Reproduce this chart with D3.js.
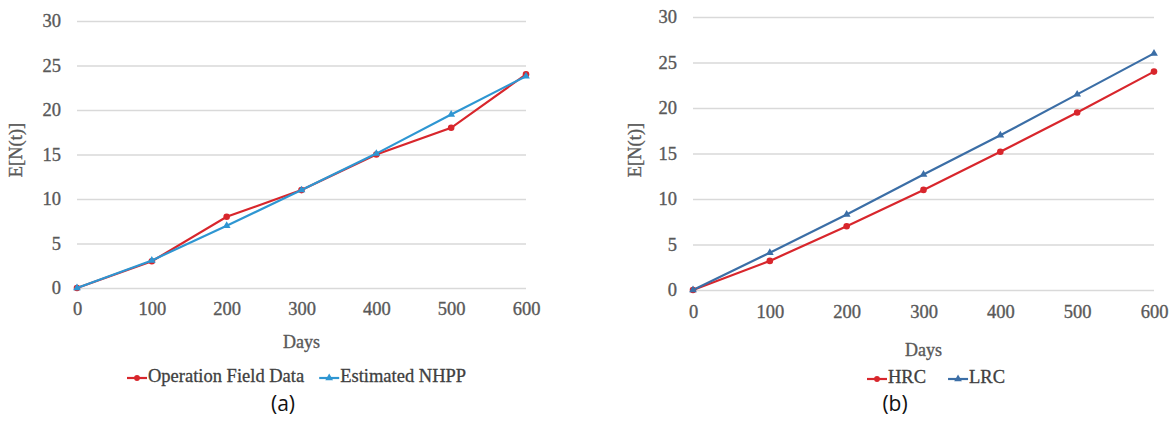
<!DOCTYPE html>
<html>
<head>
<meta charset="utf-8">
<script src="https://cdn.jsdelivr.net/npm/d3@7"></script>
<style>
  body { margin: 0; background: #fff; }
  svg { display: block; }
  .tick text { font-family: "Liberation Serif", serif; }
</style>
</head>
<body>
<svg id="chart" width="1176" height="428"></svg>
<script>
// data
var days = [0, 100, 200, 300, 400, 500, 600];
var fieldData = [0, 3, 8, 11, 15, 18, 24];
var nhpp = [0, 3.1, 7, 11, 15.1, 19.5, 23.8];
var hrc = [0, 3.2, 7, 11, 15.2, 19.5, 24];
var lrc = [0, 4.1, 8.3, 12.7, 17, 21.5, 26];
var yTicks = [0, 5, 10, 15, 20, 25, 30];
var xTicks = [0, 100, 200, 300, 400, 500, 600];

var svg = d3.select("#chart");
var serif = "'Liberation Serif', 'DejaVu Serif', serif";
var grey = "#595959";

function drawPanel(opt) {
  var x = d3.scaleLinear().domain([0, 600]).range([opt.left, opt.right]);
  var y = d3.scaleLinear().domain([0, 30]).range([opt.bottom, opt.top]);
  var g = svg.append("g");

  // gridlines + y labels
  g.append("g")
    .attr("transform", "translate(" + opt.left + ",0)")
    .call(d3.axisLeft(y).tickValues(yTicks).tickSize(-(opt.right - opt.left)).tickPadding(16))
    .call(function (a) {
      a.select(".domain").remove();
      a.selectAll(".tick line").attr("stroke", "#d9d9d9").attr("stroke-width", 1.3);
      a.selectAll(".tick text").attr("fill", grey).attr("stroke", grey).attr("stroke-width", 0.35).style("font-size", "18.5px");
    });

  g.append("g")
    .attr("transform", "translate(0," + opt.bottom + ")")
    .call(d3.axisBottom(x).tickValues(xTicks).tickSize(0).tickPadding(opt.xPad))
    .call(function (a) {
      a.select(".domain").remove();
      a.selectAll(".tick text").attr("fill", grey).attr("stroke", grey).attr("stroke-width", 0.35).style("font-size", "18.5px");
    });

  // axis titles
  g.append("text")
    .attr("x", (opt.left + opt.right) / 2)
    .attr("y", opt.daysY)
    .attr("text-anchor", "middle")
    .attr("font-family", serif)
    .attr("font-size", 18)
    .attr("fill", grey)
    .attr("stroke", grey)
    .attr("stroke-width", 0.35)
    .text("Days");

  g.append("text")
    .attr("transform", "translate(" + opt.titleX + ",150) rotate(-90)")
    .attr("text-anchor", "middle")
    .attr("dominant-baseline", "middle")
    .attr("font-family", serif)
    .attr("font-size", 18.5)
    .attr("fill", grey)
    .attr("stroke", grey)
    .attr("stroke-width", 0.35)
    .text("E[N(t)]");

  var line = d3.line()
    .x(function (d, i) { return x(days[i]); })
    .y(function (d) { return y(d); });

  opt.series.forEach(function (s) {
    g.append("path")
      .datum(s.values)
      .attr("d", line)
      .attr("fill", "none")
      .attr("stroke", s.color)
      .attr("stroke-width", 2.2);

    var sym = s.marker == "circle" ? d3.symbolCircle : d3.symbolTriangle;
    g.selectAll(null)
      .data(s.values)
      .enter().append("path")
      .attr("transform", function (d, i) { return "translate(" + x(days[i]) + "," + y(d) + ")"; })
      .attr("d", d3.symbol().type(sym).size(s.marker == "circle" ? 34 : 26))
      .attr("fill", s.color);
  });

  // legend
  var lx = opt.legendX;
  opt.series.forEach(function (s) {
    var lg = g.append("g").attr("transform", "translate(" + lx + "," + opt.legendY + ")");
    lg.append("line").attr("x1", 0).attr("x2", 20).attr("stroke", s.color).attr("stroke-width", 2.2);
    lg.append("path")
      .attr("transform", "translate(10,0)")
      .attr("d", d3.symbol().type(s.marker == "circle" ? d3.symbolCircle : d3.symbolTriangle).size(26))
      .attr("fill", s.color);
    var t = lg.append("text")
      .attr("x", 21)
      .attr("dominant-baseline", "middle")
      .attr("font-family", serif)
      .attr("font-size", 18.5)
      .attr("fill", "#404040")
      .attr("stroke", "#404040")
      .attr("stroke-width", 0.3)
      .text(s.name);
    lx += 21 + t.node().getComputedTextLength() + opt.legendGap;
  });

  g.append("text")
    .attr("x", opt.labelX)
    .attr("y", 405)
    .attr("text-anchor", "middle")
    .attr("dominant-baseline", "middle")
    .attr("font-family", "'Open Sans', 'Noto Sans', sans-serif")
    .attr("font-size", 21)
    .attr("fill", "#111")
    .text(opt.label);
}

drawPanel({
  left: 77, right: 526, top: 21, bottom: 288,
  xPad: 14, daysY: 348, titleX: 18,
  legendX: 127, legendY: 378, legendGap: 15,
  labelX: 283, label: "(a)",
  series: [
    { name: "Operation Field Data", values: fieldData, color: "#d8262c", marker: "circle" },
    { name: "Estimated NHPP", values: nhpp, color: "#2e96d2", marker: "triangle" }
  ]
});

drawPanel({
  left: 693, right: 1154, top: 17, bottom: 290,
  xPad: 15, daysY: 356, titleX: 637,
  legendX: 867, legendY: 379, legendGap: 22,
  labelX: 895, label: "(b)",
  series: [
    { name: "HRC", values: hrc, color: "#d8262c", marker: "circle" },
    { name: "LRC", values: lrc, color: "#3b6ea6", marker: "triangle" }
  ]
});
</script>
</body>
</html>
